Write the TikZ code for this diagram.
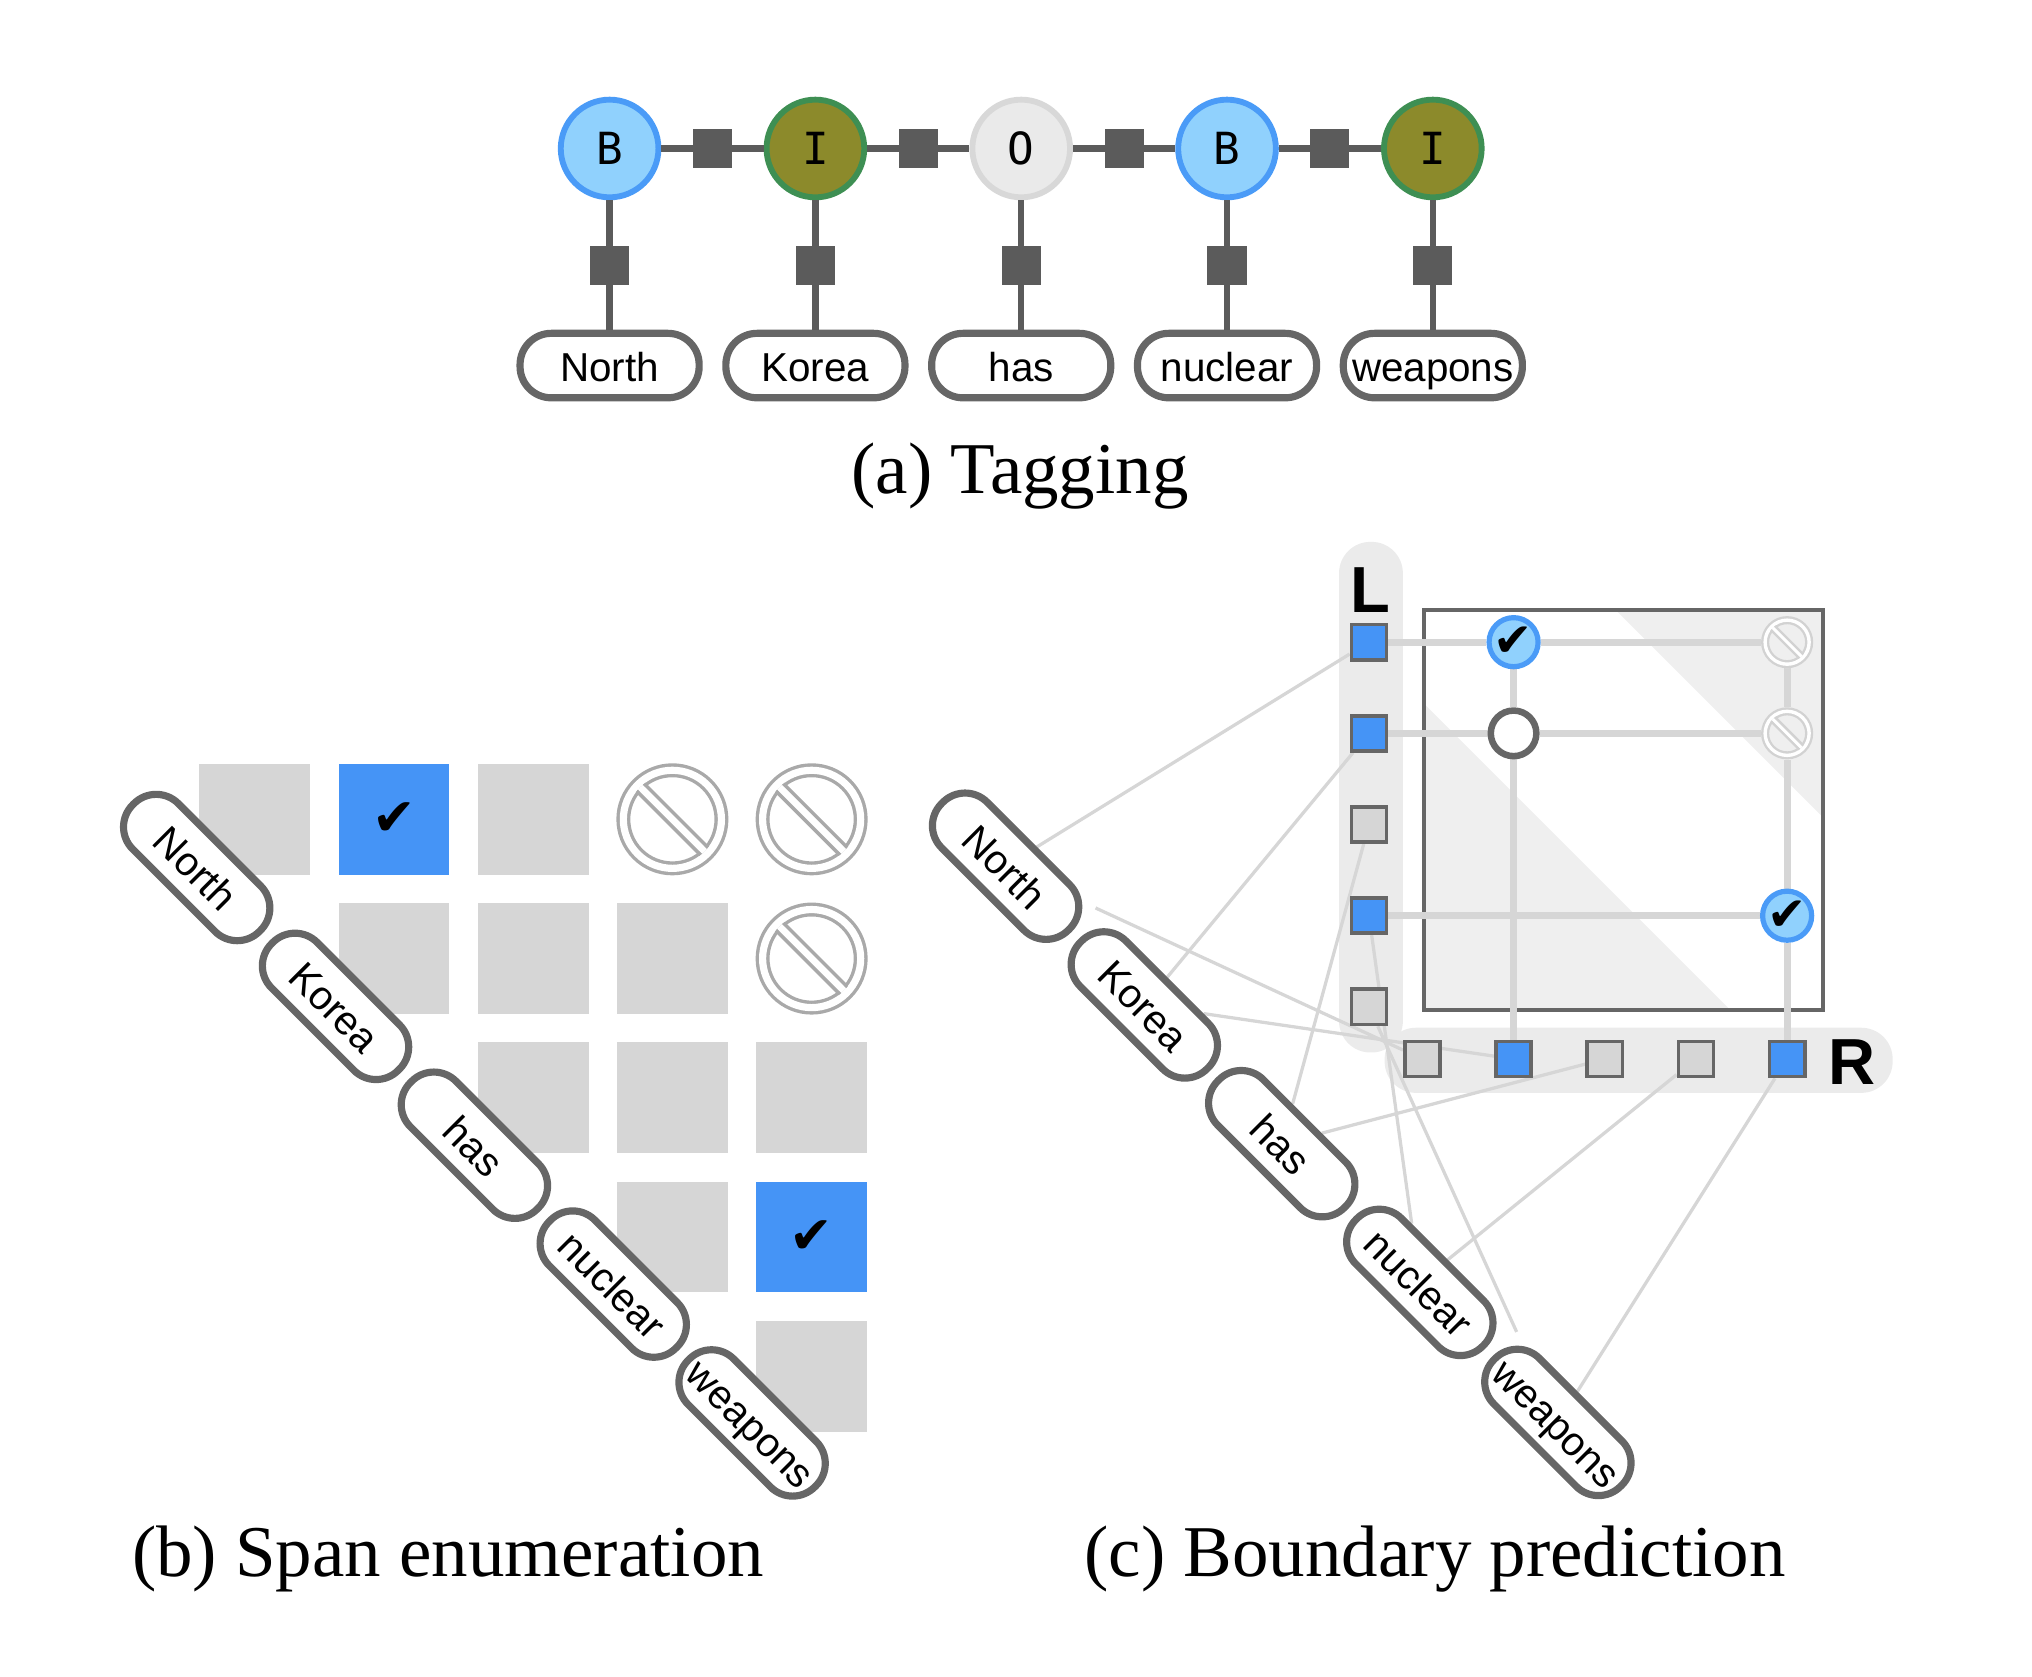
\documentclass[tikz,border=0pt]{standalone}
\usepackage{fontspec}
\setmainfont{Liberation Serif}
\newfontfamily\wordfont{Liberation Sans}
\newfontfamily\tagfont{DejaVu Sans Mono}
\newfontfamily\markfont{DejaVu Sans}
\usetikzlibrary{calc,positioning}
\pgfdeclarelayer{bg}
\pgfdeclarelayer{links}
\pgfsetlayers{bg,links,main}
\definecolor{bblue}{HTML}{4A9BF7}
\definecolor{blight}{HTML}{90D1FD}
\definecolor{igreen}{HTML}{3E8F53}
\definecolor{iolive}{HTML}{8C8A2B}
\definecolor{obord}{HTML}{D8D8D8}
\definecolor{ofill}{HTML}{EAEAEA}
\definecolor{factorgray}{HTML}{5B5B5B}
\definecolor{pillgray}{HTML}{666666}
\definecolor{cellgray}{HTML}{D6D6D6}
\definecolor{hitblue}{HTML}{4594F6}
\definecolor{noentrygray}{HTML}{A9A9A9}
\definecolor{faintgray}{HTML}{D2D2D2}
\definecolor{linkgray}{HTML}{D6D6D6}
\definecolor{bargray}{HTML}{EBEBEB}
\definecolor{zonegray}{HTML}{EFEFEF}
% #1 fill, #2 name, #3 position, #4 outer radius, #5 line width, #6 gap, #7 colour
\newcommand{\noentry}[7][white]{%
	\node [circle, inner sep=0pt, minimum size=2*#4 pt, fill=#1] (#2) at (#3) {};
	\begin{scope}[shift={(#2.center)}, rotate=-45]
		\draw [#7, line width=#5pt, double=white, double distance=#6pt] (0,0) circle [radius=#4-#5-#6/2];
		\clip (0,0) circle [radius=#4-#5-#6];
		\fill [white] (-#4,-#6/2) rectangle (#4,#6/2);
		\draw [#7, line width=#5pt] (-#4,#6/2+#5/2) -- (#4,#6/2+#5/2) (-#4,-#6/2-#5/2) -- (#4,-#6/2-#5/2);
	\end{scope}}

\begin{document}
\begin{tikzpicture}[
		x=1pt, y=-1pt,
		node distance=21.5pt,
		tag/.style={circle, line width=4.5pt, minimum size=75pt, inner sep=0pt, font=\tagfont\fontsize{34pt}{34pt}\selectfont},
		btag/.style={tag, draw=bblue, fill=blight},
		itag/.style={tag, draw=igreen, fill=iolive},
		otag/.style={tag, draw=obord, fill=ofill},
		factor/.style={fill=factorgray, minimum size=30pt, inner sep=0pt},
		chain/.style={draw=factorgray, line width=5pt},
		word/.style={draw=pillgray, line width=5.5pt, fill=white, rounded corners=24pt, minimum width=137.5pt, minimum height=49.5pt, inner sep=0pt, text height=28pt, text depth=4pt, font=\wordfont\fontsize{31pt}{31pt}\selectfont},
		cell/.style={fill=cellgray, minimum size=85pt, inner sep=0pt},
		hit/.style={cell, fill=hitblue, font=\markfont\fontsize{40pt}{40pt}\selectfont},
		caption/.style={anchor=base, font=\fontsize{56pt}{56pt}\selectfont},
		bound/.style={draw=pillgray, line width=2.8pt, fill=cellgray, minimum size=27pt, inner sep=0pt},
		boundon/.style={bound, fill=hitblue},
		pick/.style={circle, draw=bblue, fill=blight, line width=4pt, minimum size=36pt, inner sep=0pt, font=\markfont\fontsize{36pt}{36pt}\selectfont},
		emptypick/.style={circle, draw=pillgray, fill=white, line width=5pt, minimum size=35pt, inner sep=0pt},
		axis/.style={font=\wordfont\bfseries\fontsize{50pt}{50pt}\selectfont},
		track/.style={draw=linkgray, line width=5.5pt},
		link/.style={draw=linkgray, line width=2.5pt},
	]
		\useasboundingbox (0,0) rectangle (1560,1287);

		\node [btag] (tag1) at (468,114) {B};
		\node [itag, right=78.5pt of tag1] (tag2) {I};
		\node [otag, right=78.5pt of tag2] (tag3) {O};
		\node [btag, right=78.5pt of tag3] (tag4) {B};
		\node [itag, right=78.5pt of tag4] (tag5) {I};
		\node [factor] (f12) at ($(tag1)!.5!(tag2)$) {};
		\node [factor] (f23) at ($(tag2)!.5!(tag3)$) {};
		\node [factor] (f34) at ($(tag3)!.5!(tag4)$) {};
		\node [factor] (f45) at ($(tag4)!.5!(tag5)$) {};
		\node [factor, below=35pt of tag1] (fv1) {};
		\node [factor, below=35pt of tag2] (fv2) {};
		\node [factor, below=35pt of tag3] (fv3) {};
		\node [factor, below=35pt of tag4] (fv4) {};
		\node [factor, below=35pt of tag5] (fv5) {};
		\node [word, below=34pt of fv1] (word1) {North};
		\node [word, below=34pt of fv2] (word2) {Korea};
		\node [word, below=34pt of fv3] (word3) {has};
		\node [word, below=34pt of fv4] (word4) {nuclear};
		\node [word, below=34pt of fv5] (word5) {weapons};
		\draw [chain] (tag1) -- (tag2) -- (tag3) -- (tag4) -- (tag5);
		\draw [chain] (tag1) -- (word1) (tag2) -- (word2) (tag3) -- (word3) (tag4) -- (word4) (tag5) -- (word5);
		\node [caption] (cap a) at (783,378.6) {(a) Tagging};

		\node [cell] (sq11) at (195.5,629) {};
		\node [hit, right=of sq11] (sq12) {✔};
		\node [cell, right=of sq12] (sq13) {};
		\node [cell, below=of sq12] (sq22) {};
		\node [cell, right=of sq22] (sq23) {};
		\node [cell, right=of sq23] (sq24) {};
		\node [cell, below=of sq23] (sq33) {};
		\node [cell, right=of sq33] (sq34) {};
		\node [cell, right=of sq34] (sq35) {};
		\node [cell, below=of sq34] (sq44) {};
		\node [hit, right=of sq44] (sq45) {✔};
		\node [cell, below=of sq45] (sq55) {};
		\noentry{ne14}{sq34 |- sq11}{43}{2.6}{5.5}{noentrygray}
		\noentry{ne15}{sq35 |- sq11}{43}{2.6}{5.5}{noentrygray}
		\noentry{ne25}{sq35 |- sq22}{43}{2.6}{5.5}{noentrygray}
		\node [word, rotate=-45] (bw1) at (151,666) {North};
		\node [word, rotate=-45] (bw2) at (257.6,772.6) {Korea};
		\node [word, rotate=-45] (bw3) at (364.2,879.2) {has};
		\node [word, rotate=-45] (bw4) at (470.8,985.8) {nuclear};
		\node [word, rotate=-45] (bw5) at (577.4,1092.4) {weapons};
		\node [caption] (cap b) at (344,1210.4) {(b) Span enumeration};

		\begin{pgfonlayer}{bg}
			\fill [bargray, rounded corners=24pt] (1028,416) rectangle (1077,808);
			\fill [bargray, rounded corners=24pt] (1063,789) rectangle (1453,839);
			\fill [zonegray] (1240,468) -- (1400,468) -- (1400,628) -- cycle;
			\fill [zonegray] (1093,540) -- (1093,776) -- (1329,776) -- cycle;
			\node [draw=pillgray, line width=3pt, minimum width=306pt, minimum height=307pt, inner sep=0pt] (spanmat) at (1246.5,622) {};
		\end{pgfonlayer}
		\node [boundon] (l1) at (1051,493) {};
		\node [boundon, below=40.2pt of l1] (l2) {};
		\node [bound, below=40.2pt of l2] (l3) {};
		\node [boundon, below=40.2pt of l3] (l4) {};
		\node [bound, below=40.2pt of l4] (l5) {};
		\node [bound] (r1) at (1092,813) {};
		\node [boundon, right=40.2pt of r1] (r2) {};
		\node [bound, right=40.2pt of r2] (r3) {};
		\node [bound, right=40.2pt of r3] (r4) {};
		\node [boundon, right=40.2pt of r4] (r5) {};
		\node [pick] (c12) at (r2 |- l1) {✔};
		\node [emptypick] (c22) at (r2 |- l2) {};
		\node [pick] (c45) at (r5 |- l4) {✔};
		\noentry[zonegray]{cne15}{r5 |- l1}{20}{1.8}{2.6}{faintgray}
		\noentry[zonegray]{cne25}{r5 |- l2}{20}{1.8}{2.6}{faintgray}
		\node [axis] (lab l) at (1052,453) {L};
		\node [axis] (lab r) at (1422,815) {R};
		\node [word, rotate=-45] (cw1) at (772,665) {North};
		\node [word, rotate=-45] (cw2) at (878.5,771.5) {Korea};
		\node [word, rotate=-45] (cw3) at (984,878) {has};
		\node [word, rotate=-45] (cw4) at (1090,984.5) {nuclear};
		\node [word, rotate=-45] (cw5) at (1196,1092) {weapons};
		\node [caption] (cap c) at (1101.7,1210.4) {(c) Boundary prediction};

		\begin{pgfonlayer}{links}
			\draw [track] (l1) -- (c12) -- (cne15);
			\draw [track] (l2) -- (c22) -- (cne25);
			\draw [track] (l4) -- (c45);
			\draw [track] (r2) -- (c22) -- (c12);
			\draw [track] (r5) -- (c45) -- (cne25) -- (cne15);
			\draw [link] (cw1) -- (l1) (cw1) -- (r1);
			\draw [link] (cw2) -- (l2) (cw2) -- (r2);
			\draw [link] (cw3) -- (l3) (cw3) -- (r3);
			\draw [link] (cw4) -- (l4) (cw4) -- (r4);
			\draw [link] (cw5) -- (l5) (cw5) -- (r5);
		\end{pgfonlayer}
	\end{tikzpicture}
\end{document}
